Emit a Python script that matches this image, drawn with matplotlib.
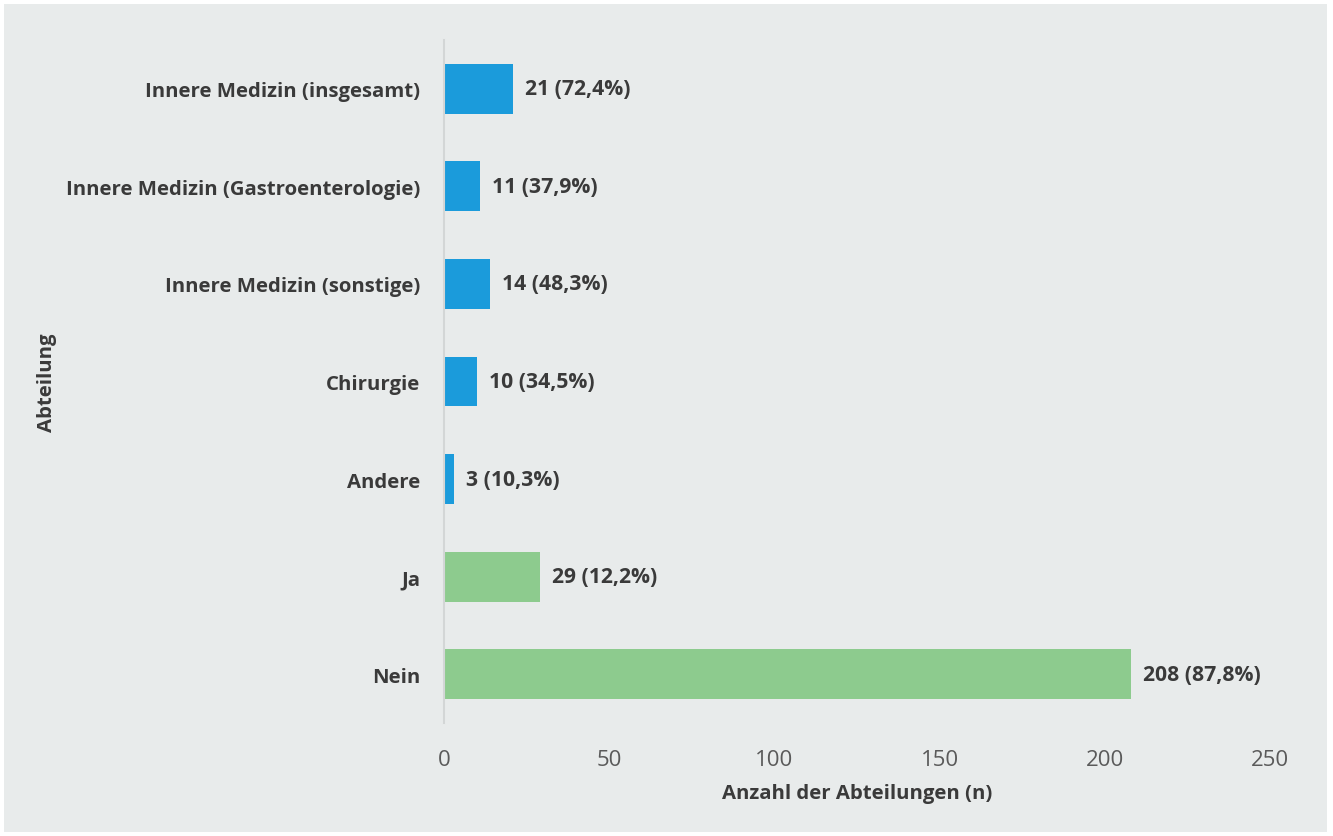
import matplotlib
matplotlib.use("Agg")
import matplotlib.pyplot as plt
from matplotlib.patches import Rectangle

categories = [
    "Innere Medizin (insgesamt)",
    "Innere Medizin (Gastroenterologie)",
    "Innere Medizin (sonstige)",
    "Chirurgie",
    "Andere",
    "Ja",
    "Nein",
]
counts = [21, 11, 14, 10, 3, 29, 208]
percents = ["72,4%", "37,9%", "48,3%", "34,5%", "10,3%", "12,2%", "87,8%"]
groups = ["dept", "dept", "dept", "dept", "dept", "answer", "answer"]

xticks = [0, 50, 100, 150, 200, 250]
x_label = "Anzahl der Abteilungen (n)"
y_label = "Abteilung"

palette = {"dept": "#1b9bdb", "answer": "#8dcb8e"}
panel_bg = "#e8ebeb"
text_dark = "#3a3a3a"
tick_gray = "#5a5a5a"

plt.rcParams["font.family"] = ["Open Sans", "DejaVu Sans"]

W, H = 1333, 837
fig = plt.figure(figsize=(W / 100, H / 100), dpi=100)
fig.patch.set_facecolor("white")
fig.patches.append(Rectangle((4 / W, 1 - 833 / H), (1327 - 4) / W, (833 - 5) / H,
                             transform=fig.transFigure, facecolor=panel_bg,
                             edgecolor="none", zorder=-10))

ax = fig.add_axes([444 / W, 1 - 724 / H, (1270 - 444) / W, (724 - 41) / H])
ax.set_facecolor("none")

ypos = list(range(len(categories)))
colors = [palette[g] for g in groups]
ax.barh(ypos, counts, height=0.51, color=colors, edgecolor="none", zorder=2)

for y, c, p in zip(ypos, counts, percents):
    ax.text(c + 3.6, y, f"{c} ({p})", va="center", ha="left",
            fontsize=15.2, fontweight="bold", color=text_dark)

ax.set_xlim(0, 250)
ax.set_ylim(6.5, -0.5)
ax.set_xticks(xticks)
ax.set_xticklabels([str(t) for t in xticks], fontsize=16, color=tick_gray)
ax.set_yticks(ypos)
ax.set_yticklabels(categories, fontsize=14.7, fontweight="bold", color=text_dark)
ax.tick_params(axis="both", length=0)
ax.tick_params(axis="x", pad=19)
ax.tick_params(axis="y", pad=17)

for side in ["top", "right", "bottom"]:
    ax.spines[side].set_visible(False)
ax.spines["left"].set_color("#d3d6d6")
ax.spines["left"].set_linewidth(1.5)

ax.set_xlabel(x_label, fontsize=14.7, fontweight="bold", color=text_dark, labelpad=9)
ax.set_ylabel(y_label, fontsize=14.7, fontweight="bold", color=text_dark)
ax.yaxis.set_label_coords((57 - 444) / (1270 - 444), 0.5)

fig.savefig("out.png", dpi=100, facecolor=fig.get_facecolor())
